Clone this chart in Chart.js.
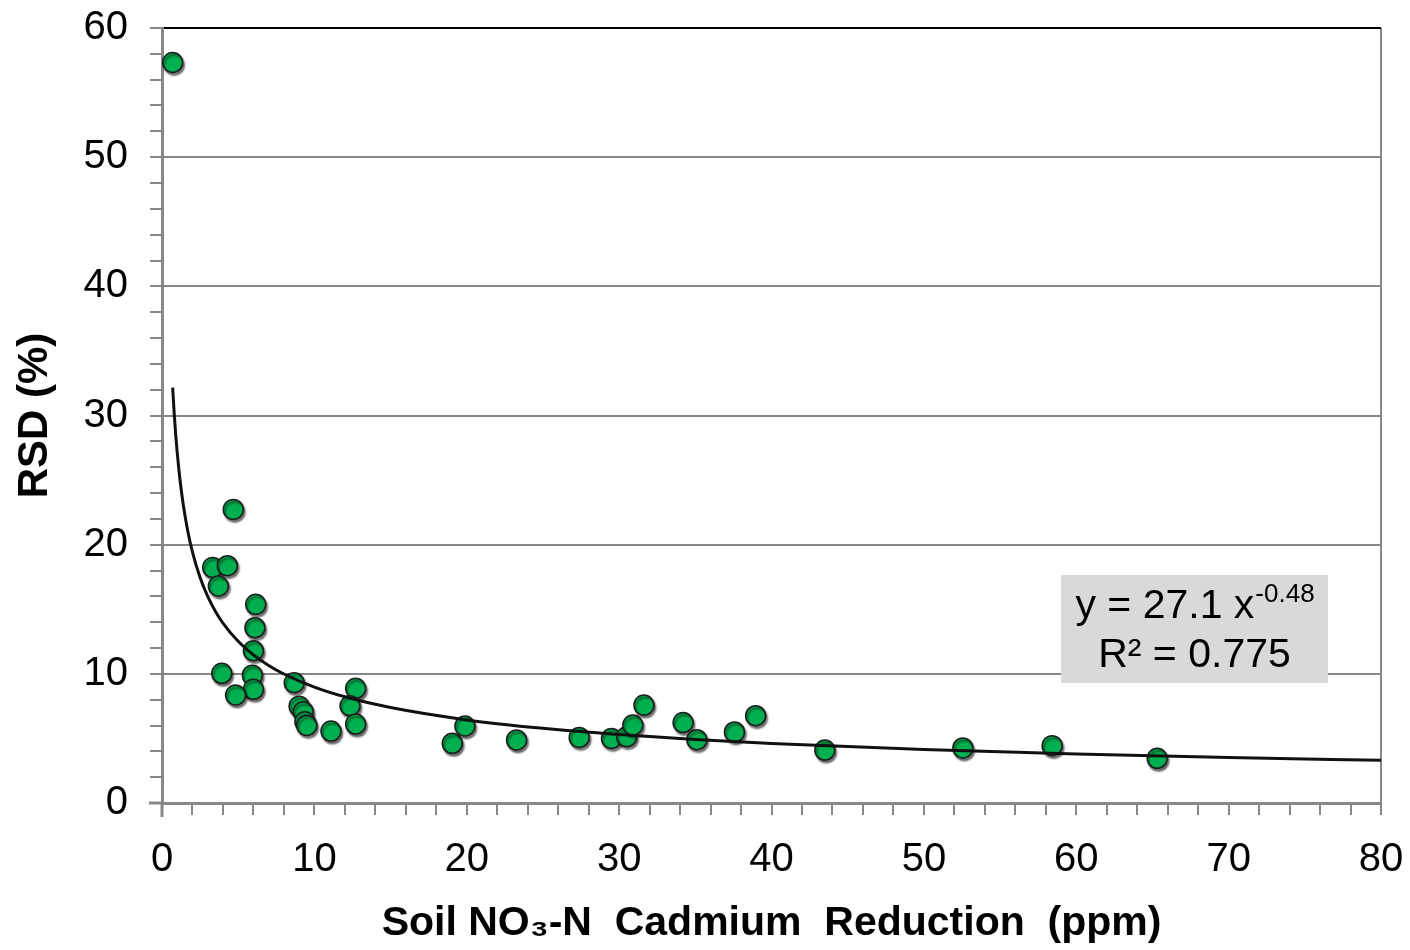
<!DOCTYPE html>
<html>
<head>
<meta charset="utf-8">
<script src="https://cdn.jsdelivr.net/npm/chart.js@4.4.1/dist/chart.umd.min.js"></script>
<style>
  html, body { margin: 0; padding: 0; background: #ffffff; }
  #wrap { width: 1410px; height: 950px; position: relative; }
</style>
</head>
<body>
<div id="wrap"><canvas id="chart" width="1410" height="950"></canvas></div>
<script>
// Soil NO3-N (ppm) and relative standard deviation (%) of each sample
const nitrateValues = [0.70, 4.68, 3.33, 4.29, 3.70, 6.15, 6.10, 6.00, 3.92, 5.93, 6.00, 4.83,
  8.68, 9.00, 9.27, 9.38, 9.50, 11.09, 12.71, 12.34, 12.71, 19.05, 19.88, 23.27, 27.38,
  29.50, 30.50, 30.90, 31.63, 34.20, 35.10, 37.57, 38.96, 43.50, 52.56, 58.42, 65.31];
const rsdValues = [57.33, 22.73, 18.24, 18.37, 16.80, 15.38, 13.57, 11.79, 10.04, 9.90, 8.80, 8.36,
  9.31, 7.50, 7.07, 6.30, 6.00, 5.57, 8.88, 7.53, 6.11, 4.62, 5.96, 4.88, 5.08,
  5.00, 5.13, 6.04, 7.58, 6.23, 4.90, 5.50, 6.76, 4.10, 4.26, 4.44, 3.46];

// Power trend line y = a * x^b, as printed in the equation box
const trendA = 27.1;
const trendB = -0.48;
const trendR2 = 0.775;
const trendX = [0.7, 0.8, 0.9, 1, 1.2, 1.4, 1.7, 2, 2.5, 3, 3.5, 4, 5, 6, 7, 8, 10, 12, 15,
  20, 25, 30, 35, 40, 50, 60, 70, 80];

// Axis ranges and labelled ticks
const xRange = [0, 80];
const yRange = [0, 60];
const majorStep = 10;
const minorStep = 2;

const axisTitleX = 'Soil NO\u2083-N  Cadmium  Reduction  (ppm)';
const axisTitleY = 'RSD (%)';

const trendPoints = trendX.map(x => ({ x: x, y: trendA * Math.pow(x, trendB) }));
const samplePoints = nitrateValues.map((x, i) => ({ x: x, y: rsdValues[i] }));

const gridGray = '#878787';
const fontFamily = '"Liberation Sans", Arial, sans-serif';

// Soft drop shadow under the sample markers
const markerShadow = {
  id: 'markerShadow',
  beforeDatasetDraw(chart, args) {
    if (args.index !== 1) return;
    const c = chart.ctx;
    c.save();
    c.shadowColor = 'rgba(0,0,0,0.55)';
    c.shadowOffsetX = 1.5;
    c.shadowOffsetY = 2.5;
    c.shadowBlur = 2;
  },
  afterDatasetDraw(chart, args) {
    if (args.index !== 1) return;
    chart.ctx.restore();
  }
};

// Axis lines run a little past the corner, like a tick mark
const cornerTicks = {
  id: 'cornerTicks',
  afterDraw(chart) {
    const c = chart.ctx;
    const a = chart.chartArea;
    c.save();
    c.strokeStyle = gridGray;
    c.lineWidth = 3;
    c.beginPath();
    c.moveTo(a.left - 13, a.bottom);
    c.lineTo(a.left, a.bottom);
    c.moveTo(a.left, a.bottom);
    c.lineTo(a.left, a.bottom + 14);
    c.stroke();
    c.restore();
  }
};

// Equation / R² box in the lower right of the plot
const equationBox = {
  id: 'equationBox',
  afterDraw(chart) {
    const c = chart.ctx;
    const a = chart.chartArea;
    const left = a.right - 320;
    const top = a.bottom - 228;
    const w = 267, h = 108;
    c.save();
    c.fillStyle = '#d9d9d9';
    c.fillRect(left, top, w, h);
    c.fillStyle = '#000000';
    c.textBaseline = 'alphabetic';
    const cx = left + w / 2;

    const mainFont = '41px ' + fontFamily;
    const supFont = '26px ' + fontFamily;
    const part1 = 'y = ' + trendA.toFixed(1) + ' x';
    const part2 = trendB.toFixed(2);
    c.font = mainFont;
    const w1 = c.measureText(part1).width;
    c.font = supFont;
    const w2 = c.measureText(part2).width;
    const x0 = cx - (w1 + w2) / 2;
    c.font = mainFont;
    c.textAlign = 'left';
    c.fillText(part1, x0, top + 43);
    c.font = supFont;
    c.fillText(part2, x0 + w1 + 1, top + 27);

    c.font = mainFont;
    c.textAlign = 'center';
    c.fillText('R\u00b2 = ' + trendR2.toFixed(3), cx, top + 92);
    c.restore();
  }
};

new Chart(document.getElementById('chart'), {
  type: 'scatter',
  data: {
    datasets: [
      {
        label: 'Power trend',
        type: 'line',
        data: trendPoints,
        borderColor: '#111111',
        borderWidth: 3,
        pointRadius: 0,
        fill: false,
        cubicInterpolationMode: 'monotone'
      },
      {
        label: 'RSD',
        data: samplePoints,
        backgroundColor: '#00b050',
        borderColor: '#1c1c1c',
        borderWidth: 1.5,
        pointRadius: 10,
        pointHoverRadius: 10
      }
    ]
  },
  options: {
    responsive: false,
    animation: false,
    devicePixelRatio: 1,
    layout: { padding: { top: 28, right: 29, left: 0, bottom: 0 } },
    plugins: {
      legend: { display: false },
      tooltip: { enabled: false }
    },
    scales: {
      x: {
        type: 'linear',
        min: xRange[0],
        max: xRange[1],
        afterFit: s => { s.height = 147; s.paddingLeft = 0; s.paddingRight = 0; },
        ticks: {
          stepSize: minorStep,
          autoSkip: false,
          maxRotation: 0,
          padding: 21,
          color: '#000000',
          font: { family: fontFamily, size: 40 },
          callback: v => (v % majorStep === 0 ? String(v) : '')
        },
        grid: {
          drawOnChartArea: true,
          drawTicks: true,
          tickLength: 12,
          tickWidth: 2,
          tickColor: gridGray,
          color: ctx => (ctx.tick && ctx.tick.value === xRange[1] ? gridGray : 'rgba(0,0,0,0)'),
          lineWidth: 2
        },
        border: { display: true, color: gridGray, width: 3 },
        title: {
          display: true,
          text: axisTitleX,
          color: '#000000',
          font: { family: fontFamily, size: 41, weight: 'bold' },
          padding: { top: 4, bottom: 2 }
        }
      },
      y: {
        type: 'linear',
        min: yRange[0],
        max: yRange[1],
        afterFit: s => { s.width = 162; s.paddingTop = 0; s.paddingBottom = 0; },
        ticks: {
          stepSize: minorStep,
          autoSkip: false,
          padding: 22,
          color: '#000000',
          font: { family: fontFamily, size: 40 },
          callback: v => (v % majorStep === 0 ? String(v) : '')
        },
        grid: {
          drawTicks: true,
          tickLength: 12,
          tickWidth: 2,
          tickColor: gridGray,
          color: ctx => {
            if (!ctx.tick) return 'rgba(0,0,0,0)';
            if (ctx.tick.value === yRange[1]) return '#000000';
            return ctx.tick.value % majorStep === 0 ? gridGray : 'rgba(0,0,0,0)';
          },
          lineWidth: 2
        },
        border: { display: true, color: gridGray, width: 3 },
        title: {
          display: true,
          text: axisTitleY,
          color: '#000000',
          font: { family: fontFamily, size: 42, weight: 'bold' },
          padding: { top: 10, bottom: 0 }
        }
      }
    }
  },
  plugins: [markerShadow, cornerTicks, equationBox]
});
</script>
</body>
</html>
